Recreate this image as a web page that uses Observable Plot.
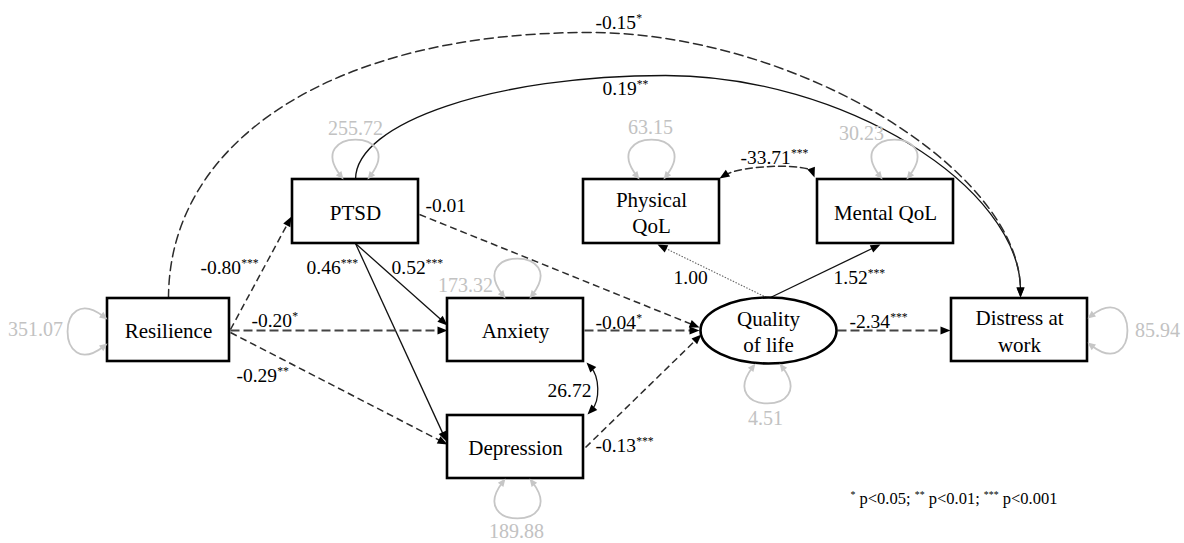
<!DOCTYPE html>
<html>
<head>
<meta charset="utf-8">
<script src="https://cdn.jsdelivr.net/npm/d3@7"></script>
<script src="https://cdn.jsdelivr.net/npm/@observablehq/plot@0.6"></script>
<style>html,body{margin:0;padding:0;background:#fff;overflow:hidden;}</style>
</head>
<body>
<div id="chart"></div>
<script>
// ---------------- data (values only) ----------------
const nodeNames  = ["Resilience","PTSD","Anxiety","Depression","Physical QoL","Mental QoL","Quality of life","Distress at work"];
const nodeLabels = ["Resilience","PTSD","Anxiety","Depression","Physical\nQoL","Mental QoL","Quality\nof life","Distress at\nwork"];

const pathFrom     = ["Resilience","Resilience","Resilience","PTSD","PTSD","PTSD","Anxiety","Depression","Quality of life","Quality of life","Quality of life","PTSD","Resilience"];
const pathTo       = ["PTSD","Anxiety","Depression","Anxiety","Depression","Quality of life","Quality of life","Quality of life","Physical QoL","Mental QoL","Distress at work","Distress at work","Distress at work"];
const pathEstimate = [-0.80,-0.20,-0.29,0.52,0.46,-0.01,-0.04,-0.13,1.00,1.52,-2.34,0.19,-0.15];
const pathSig      = ["***","*","**","***","***","","*","***","","***","***","**","*"];

const covFrom     = ["Anxiety","Physical QoL"];
const covTo       = ["Depression","Mental QoL"];
const covEstimate = [26.72,-33.71];
const covSig      = ["","***"];

const varNode     = ["Resilience","PTSD","Anxiety","Depression","Physical QoL","Mental QoL","Quality of life","Distress at work"];
const varEstimate = [351.07,255.72,173.32,189.88,63.15,30.23,4.51,85.94];

const sigNote = "* p<0.05; ** p<0.01; *** p<0.001";

// ---------------- layout (pixel positions of the diagram) ----------------
const W = 1184, H = 543;
const nodeBox = {
  "Resilience":       {x1:107, x2:229, y1:298, y2:361},
  "PTSD":             {x1:292, x2:418, y1:179, y2:243},
  "Anxiety":          {x1:447, x2:583, y1:298, y2:361},
  "Depression":       {x1:447, x2:583, y1:415, y2:478},
  "Physical QoL":     {x1:583, x2:719, y1:179, y2:243},
  "Mental QoL":       {x1:817, x2:953, y1:179, y2:243},
  "Quality of life":  {cx:768, cy:330, rx:68, ry:33, ellipse:true},
  "Distress at work": {x1:951, x2:1087, y1:298, y2:361}
};
const pathGeom = {
  "Resilience>PTSD":                  {s:[230,329], e:[291,216], style:"dash",     lab:[200,267]},
  "Resilience>Anxiety":               {s:[230,330], e:[447,330], style:"dashBold", lab:[251,320]},
  "Resilience>Depression":            {s:[230,332], e:[447,444], style:"dash",     lab:[236,375]},
  "PTSD>Anxiety":                     {s:[355,243], e:[447,325], style:"solid",    lab:[391,267]},
  "PTSD>Depression":                  {s:[355,243], e:[446,441], style:"solid",    lab:[306,267]},
  "PTSD>Quality of life":             {s:[419,214], e:[699,327], style:"dash",     lab:[425,205]},
  "Anxiety>Quality of life":          {s:[584,330], e:[699,330], style:"dashBold", lab:[595,322]},
  "Depression>Quality of life":       {s:[585,447], e:[701,334], style:"dash",     lab:[595,445]},
  "Quality of life>Physical QoL":     {s:[766,297], e:[657,244], style:"dot",      lab:[673,277]},
  "Quality of life>Mental QoL":       {s:[770,297], e:[880,244], style:"solid",    lab:[833,277]},
  "Quality of life>Distress at work": {s:[837,330], e:[950,330], style:"dashBold", lab:[849,321]},
  "PTSD>Distress at work":            {s:[355,179], apex:[665,75], e:[1020,297], k:[0.55,0.5], style:"solid",    lab:[602,88]},
  "Resilience>Distress at work":      {s:[168,298], apex:[588,32], e:[1020,297], k:[0.6,0.48], style:"dashLong", lab:[595,22]}
};
const covGeom = {
  "Anxiety<>Depression":      {s:[586,362], e:[587,414], o1:[13,14],  o2:[13,-14], style:"solid", lab:[547,390]},
  "Physical QoL<>Mental QoL": {s:[719,178], e:[814,177], o1:[22,-14], o2:[-5,-14], style:"dash",  lab:[740,157]}
};
const varGeom = {
  "Resilience":       {a:[107,331],  n:[-1,0], lab:[35,329]},
  "PTSD":             {a:[355,179],  n:[0,-1], lab:[355,128]},
  "Anxiety":          {a:[517,298],  n:[0,-1], lab:[465,285]},
  "Depression":       {a:[517,478],  n:[0,1],  lab:[516,531]},
  "Physical QoL":     {a:[651,179],  n:[0,-1], lab:[650,127]},
  "Mental QoL":       {a:[894,179],  n:[0,-1], lab:[861,133]},
  "Quality of life":  {a:[767,363],  n:[0,1],  lab:[765,418]},
  "Distress at work": {a:[1087,330], n:[1,0],  lab:[1157,330]}
};
const noteAt = [850, 498];

const styles = {
  solid:    {stroke:"#111", strokeWidth:1.3},
  dash:     {stroke:"#2b2b2b", strokeWidth:1.5, strokeDasharray:"7,4"},
  dashBold: {stroke:"#444", strokeWidth:2.2, strokeDasharray:"9,4"},
  dashLong: {stroke:"#2b2b2b", strokeWidth:1.5, strokeDasharray:"9,5"},
  dot:      {stroke:"#666", strokeWidth:1.1, strokeDasharray:"1.5,1.5"}
};
const FONT = "Liberation Serif, Times New Roman, serif";
const HEAD = {len:10, wid:8}, GHEAD = {len:8, wid:7};
const LOOP = {g:12, L:52, s:40};

// ---------------- helpers ----------------
const fmt = v => v.toFixed(2);
const rot = (dx, dy) => Math.atan2(dy, dx) * 180 / Math.PI + 90;
const toward = (p, q, d) => { const dx = q[0]-p[0], dy = q[1]-p[1], l = Math.hypot(dx,dy); return [p[0]+dx/l*d, p[1]+dy/l*d]; };
const headSym = (len, wid) => ({draw(ctx){ ctx.moveTo(0,0); ctx.lineTo(-wid/2,len); ctx.lineTo(wid/2,len); ctx.closePath(); }});
const ellipseSym = (rx, ry) => ({draw(ctx){
  const k = 0.5523;
  ctx.moveTo(rx,0);
  ctx.bezierCurveTo(rx,ry*k,rx*k,ry,0,ry);
  ctx.bezierCurveTo(-rx*k,ry,-rx,ry*k,-rx,0);
  ctx.bezierCurveTo(-rx,-ry*k,-rx*k,-ry,0,-ry);
  ctx.bezierCurveTo(rx*k,-ry,rx,-ry*k,rx,0);
  ctx.closePath();
}});
// piecewise cubic curve: points are p0, c, c, p1, c, c, p2 ...
function cubicChain(context) {
  let pts = [];
  return {
    areaStart(){}, areaEnd(){},
    lineStart(){ pts = []; },
    point(x, y){ pts.push([+x, +y]); },
    lineEnd(){
      if (!pts.length) return;
      context.moveTo(pts[0][0], pts[0][1]);
      let i = 1;
      for (; i + 2 < pts.length; i += 3)
        context.bezierCurveTo(pts[i][0],pts[i][1],pts[i+1][0],pts[i+1][1],pts[i+2][0],pts[i+2][1]);
      for (; i < pts.length; i++) context.lineTo(pts[i][0], pts[i][1]);
    }
  };
}

// ---------------- build tables ----------------
const nodes = nodeNames.map((n, i) => {
  const b = nodeBox[n];
  return b.ellipse ? {name:n, label:nodeLabels[i], ...b, x:b.cx, y:b.cy}
                   : {name:n, label:nodeLabels[i], ...b, x:(b.x1+b.x2)/2, y:(b.y1+b.y2)/2};
});
const paths = pathFrom.map((f, i) => ({from:f, to:pathTo[i], est:pathEstimate[i], sig:pathSig[i], g:pathGeom[f+">"+pathTo[i]]}));
const covs = covFrom.map((f, i) => ({from:f, to:covTo[i], est:covEstimate[i], sig:covSig[i], g:covGeom[f+"<>"+covTo[i]]}));
const vars = varNode.map((n, i) => ({node:n, est:varEstimate[i], g:varGeom[n]}));

const segs = [], curves = [], heads = [], loops = [], gheads = [];
paths.forEach((p, i) => {
  const g = p.g;
  if (g.apex) {
    const s = g.s, a = g.apex, e = g.e, [k1, k2] = g.k;
    const pts = [s, [s[0], s[1] + k1*(a[1]-s[1])], [a[0] - k1*(a[0]-s[0]), a[1]], a,
                 [a[0] + k2*(e[0]-a[0]), a[1]], [e[0], e[1] + k2*(a[1]-e[1])], [e[0], e[1] - HEAD.len*0.7]];
    pts.forEach(q => curves.push({id:"p"+i, style:g.style, x:q[0], y:q[1]}));
    heads.push({x:e[0], y:e[1], rot:rot(0,1)});
  } else {
    const end = toward(g.e, g.s, HEAD.len*0.7);
    segs.push({style:g.style, x1:g.s[0], y1:g.s[1], x2:end[0], y2:end[1]});
    heads.push({x:g.e[0], y:g.e[1], rot:rot(g.e[0]-g.s[0], g.e[1]-g.s[1])});
  }
});
covs.forEach((c, i) => {
  const g = c.g, s = g.s, e = g.e;
  const c1 = [s[0]+g.o1[0], s[1]+g.o1[1]], c2 = [e[0]+g.o2[0], e[1]+g.o2[1]];
  [toward(s, c1, HEAD.len*0.6), c1, c2, toward(e, c2, HEAD.len*0.6)]
    .forEach(q => curves.push({id:"c"+i, style:g.style, x:q[0], y:q[1]}));
  heads.push({x:s[0], y:s[1], rot:rot(s[0]-c1[0], s[1]-c1[1])});
  heads.push({x:e[0], y:e[1], rot:rot(e[0]-c2[0], e[1]-c2[1])});
});
vars.forEach((v, i) => {
  const {a, n} = v.g, t = [-n[1], n[0]], {g, L, s} = LOOP;
  const p0 = [a[0]-t[0]*g, a[1]-t[1]*g], p1 = [a[0]+t[0]*g, a[1]+t[1]*g];
  const c1 = [p0[0]+n[0]*L-t[0]*s, p0[1]+n[1]*L-t[1]*s];
  const c2 = [p1[0]+n[0]*L+t[0]*s, p1[1]+n[1]*L+t[1]*s];
  [toward(p0, c1, GHEAD.len*0.6), c1, c2, toward(p1, c2, GHEAD.len*0.6)]
    .forEach(q => loops.push({id:"v"+i, x:q[0], y:q[1]}));
  gheads.push({x:p0[0], y:p0[1], rot:rot(p0[0]-c1[0], p0[1]-c1[1])});
  gheads.push({x:p1[0], y:p1[1], rot:rot(p1[0]-c2[0], p1[1]-c2[1])});
});

// ---------------- plot ----------------
const marks = [];
for (const [k, st] of Object.entries(styles)) {
  marks.push(Plot.link(segs.filter(d => d.style === k), {x1:"x1", y1:"y1", x2:"x2", y2:"y2", ...st}));
  marks.push(Plot.line(curves.filter(d => d.style === k), {x:"x", y:"y", z:"id", curve:cubicChain, fill:"none", ...st}));
}
marks.push(Plot.line(loops, {x:"x", y:"y", z:"id", curve:cubicChain, stroke:"#c6c6c6", strokeWidth:1.8, fill:"none"}));
marks.push(Plot.rect(nodes.filter(d => !d.ellipse), {x1:"x1", x2:"x2", y1:"y1", y2:"y2", fill:"white", stroke:"#000", strokeWidth:2.6}));
for (const d of nodes.filter(d => d.ellipse)) {
  marks.push(Plot.dot([d], {x:"x", y:"y", r:10, symbol:ellipseSym(d.rx, d.ry), fill:"white", stroke:"#000", strokeWidth:2.6}));
}
marks.push(Plot.dot(heads, {x:"x", y:"y", rotate:"rot", r:5, symbol:headSym(HEAD.len, HEAD.wid), fill:"#000", stroke:"none"}));
marks.push(Plot.dot(gheads, {x:"x", y:"y", rotate:"rot", r:5, symbol:headSym(GHEAD.len, GHEAD.wid), fill:"#c6c6c6", stroke:"none"}));
marks.push(Plot.text(nodes, {x:"x", y:"y", text:"label", fontSize:21, lineHeight:1.25, fill:"#000", fontFamily:FONT}));
marks.push(Plot.text(paths, {x:d => d.g.lab[0], y:d => d.g.lab[1], text:d => fmt(d.est) + d.sig, textAnchor:"start", fontSize:19.5, fill:"#000", fontFamily:FONT}));
marks.push(Plot.text(covs, {x:d => d.g.lab[0], y:d => d.g.lab[1], text:d => fmt(d.est) + d.sig, textAnchor:"start", fontSize:19.5, fill:"#000", fontFamily:FONT}));
marks.push(Plot.text(vars, {x:d => d.g.lab[0], y:d => d.g.lab[1], text:d => fmt(d.est), fontSize:20, fill:"#c2c2c2", fontFamily:FONT}));
marks.push(Plot.text([sigNote], {x:() => noteAt[0], y:() => noteAt[1], text:d => d, textAnchor:"start", fontSize:16.5, fill:"#000", fontFamily:FONT}));

const chart = Plot.plot({
  width: W, height: H, margin: 0,
  x: {domain:[0, W], range:[0, W], axis:null},
  y: {domain:[0, H], range:[0, H], axis:null},
  style: {fontFamily: FONT, background: "white", overflow: "visible"},
  marks
});

// superscript significance stars
d3.select(chart).selectAll("text").each(function() {
  const t = this.textContent;
  if (!t.includes("*") || this.children.length) return;
  const parts = t.split(/(\*+)/).filter(s => s.length);
  this.textContent = "";
  this.setAttribute("style", (this.getAttribute("style") || "") + ";white-space:pre");
  let raised = false;
  for (const p of parts) {
    const ts = d3.select(this).append("tspan").text(p);
    if (/^\*+$/.test(p)) { ts.attr("font-size", "0.6em").attr("dy", "-0.58em"); raised = true; }
    else if (raised) { ts.attr("dy", "0.35em"); raised = false; }
  }
});
document.getElementById("chart").appendChild(chart);
</script>
</body>
</html>
